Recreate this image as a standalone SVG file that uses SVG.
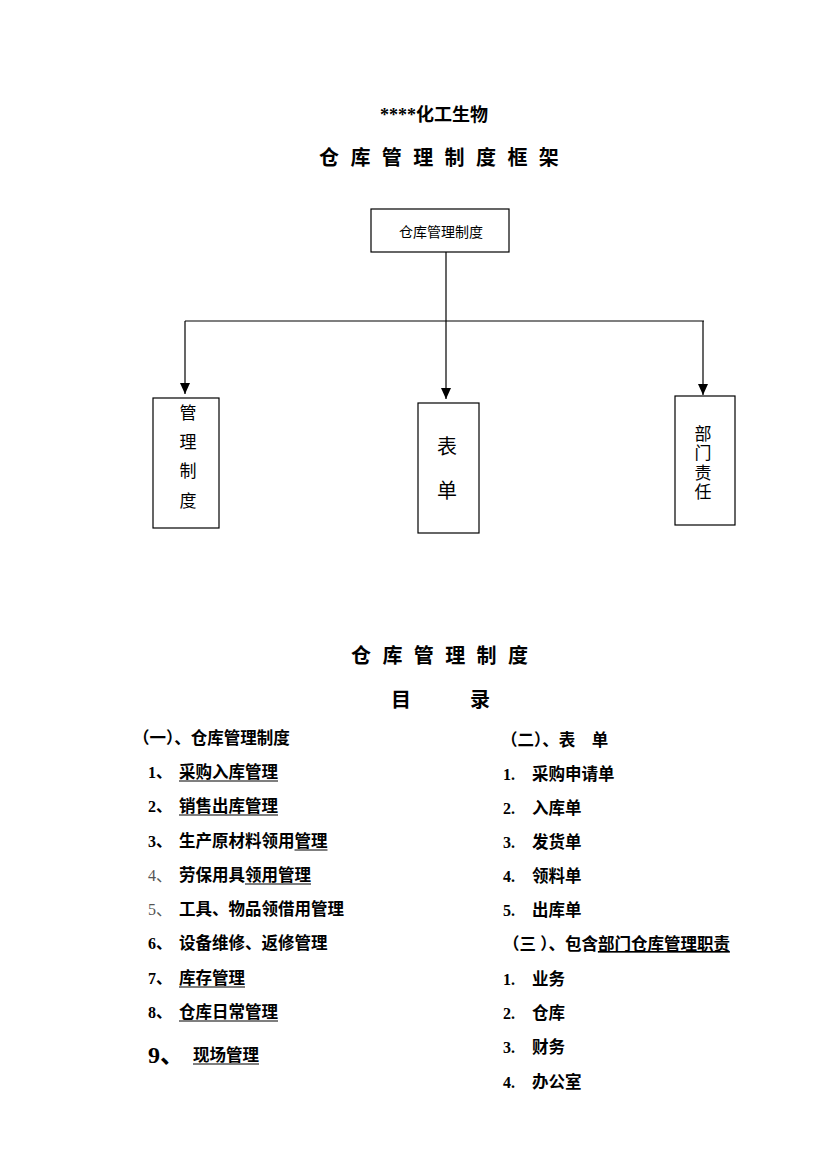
<svg xmlns="http://www.w3.org/2000/svg" width="826" height="1169" viewBox="0 0 826 1169">
<style>
.t{font-family:"Liberation Serif","Noto Sans CJK SC",serif;fill:#000}
.b{font-weight:bold}
.n{font-family:"Noto Sans CJK SC",sans-serif;fill:#000}
.box{fill:#fff;stroke:#000;stroke-width:1.2}
.ln{stroke:#000;stroke-width:1.2;fill:none}
.u{stroke:#000;stroke-width:1.2}
.g{fill:#555;font-weight:normal}
</style>
<defs>
<marker id="ah" markerWidth="12" markerHeight="10" refX="11" refY="5" orient="auto" markerUnits="userSpaceOnUse" viewBox="0 0 12 10">
<path d="M0,0 L11,5 L0,10 Z" fill="#000"/>
</marker>
</defs>
<rect width="826" height="1169" fill="#fff"/>

<g id="title">
<text class="t b" x="434" y="121" font-size="18" text-anchor="middle">****化工生物</text>
<text class="t b" font-size="20" y="165" text-anchor="middle" x="329 360.4 391.8 423.2 454.6 486 517.4 548.8">仓库管理制度框架</text>
</g>

<g id="connectors">
<line class="ln" x1="446" y1="252" x2="446" y2="321"/>
<line class="ln" x1="185" y1="321" x2="704" y2="321"/>
<line class="ln" x1="185" y1="321" x2="185" y2="394" marker-end="url(#ah)"/>
<line class="ln" x1="446" y1="321" x2="446" y2="399" marker-end="url(#ah)"/>
<line class="ln" x1="703" y1="321" x2="703" y2="395" marker-end="url(#ah)"/>
</g>

<g id="root">
<rect class="box" x="371" y="209" width="138" height="43"/>
<text class="n" x="441" y="237" font-size="14" text-anchor="middle">仓库管理制度</text>
</g>

<g id="node-guanli">
<rect class="box" x="153" y="398" width="66" height="130"/>
<text class="n" font-size="17" text-anchor="middle"><tspan x="188" y="419">管</tspan><tspan x="188" y="448">理</tspan><tspan x="188" y="477">制</tspan><tspan x="188" y="507">度</tspan></text>
</g>

<g id="node-biaodan">
<rect class="box" x="418" y="403" width="61" height="130"/>
<text class="n" font-size="20" text-anchor="middle"><tspan x="447" y="454">表</tspan><tspan x="447" y="498">单</tspan></text>
</g>

<g id="node-bumen">
<rect class="box" x="675" y="396" width="60" height="129"/>
<text class="n" font-size="17" x="703" y="425" writing-mode="vertical-rl" letter-spacing="2.5">部门责任</text>
</g>

<g id="toc-heading">
<text class="t b" font-size="20" y="663" text-anchor="middle" x="361 392.4 423.8 455.2 486.6 518">仓库管理制度</text>
<text class="t b" font-size="20" y="707" text-anchor="middle" x="401 480">目录</text>
</g>

<g id="toc-left">
<text class="t b" x="133" y="744" font-size="16.5">（一）、仓库管理制度</text>
<text class="t b" x="148" y="778" font-size="16">1、</text>
<text class="t b" x="179" y="778" font-size="16.5">采购入库管理</text>
<line class="u" x1="179" y1="781" x2="278" y2="781"/>
<text class="t b" x="148" y="812" font-size="16">2、</text>
<text class="t b" x="179" y="812" font-size="16.5">销售出库管理</text>
<line class="u" x1="179" y1="815" x2="278" y2="815"/>
<text class="t b" x="148" y="847" font-size="16">3、</text>
<text class="t b" x="179" y="847" font-size="16.5">生产原材料领用管理</text>
<line class="u" x1="294.5" y1="850" x2="327.5" y2="850"/>
<text class="t g" x="148" y="881" font-size="16">4、</text>
<text class="t b" x="179" y="881" font-size="16.5">劳保用具领用管理</text>
<line class="u" x1="245" y1="884" x2="311" y2="884"/>
<text class="t g" x="148" y="915" font-size="16">5、</text>
<text class="t b" x="179" y="915" font-size="16.5">工具、物品领借用管理</text>
<text class="t b" x="148" y="949" font-size="16">6、</text>
<text class="t b" x="179" y="949" font-size="16.5">设备维修、返修管理</text>
<text class="t b" x="148" y="984" font-size="16">7、</text>
<text class="t b" x="179" y="984" font-size="16.5">库存管理</text>
<line class="u" x1="179" y1="987" x2="245" y2="987"/>
<text class="t b" x="148" y="1018" font-size="16">8、</text>
<text class="t b" x="179" y="1018" font-size="16.5">仓库日常管理</text>
<line class="u" x1="179" y1="1021" x2="278" y2="1021"/>
<text class="t b" x="148" y="1063" font-size="24">9、</text>
<text class="t b" x="193" y="1061" font-size="16.5">现场管理</text>
<line class="u" x1="193" y1="1064" x2="259" y2="1064"/>
</g>

<g id="toc-right">
<text class="t b" x="501" y="746" font-size="16.5">（二）、表　单</text>
<text class="t b" x="503" y="780" font-size="16">1.</text>
<text class="t b" x="532" y="780" font-size="16.5">采购申请单</text>
<text class="t b" x="503" y="814" font-size="16">2.</text>
<text class="t b" x="532" y="814" font-size="16.5">入库单</text>
<text class="t b" x="503" y="848" font-size="16">3.</text>
<text class="t b" x="532" y="848" font-size="16.5">发货单</text>
<text class="t b" x="503" y="882" font-size="16">4.</text>
<text class="t b" x="532" y="882" font-size="16.5">领料单</text>
<text class="t b" x="503" y="916" font-size="16">5.</text>
<text class="t b" x="532" y="916" font-size="16.5">出库单</text>
<text class="t b" x="503" y="950" font-size="16.5">（三 ）、包含<tspan text-decoration="underline">部门仓库管理职责</tspan></text>
<text class="t b" x="503" y="985" font-size="16">1.</text>
<text class="t b" x="532" y="985" font-size="16.5">业务</text>
<text class="t b" x="503" y="1019" font-size="16">2.</text>
<text class="t b" x="532" y="1019" font-size="16.5">仓库</text>
<text class="t b" x="503" y="1053" font-size="16">3.</text>
<text class="t b" x="532" y="1053" font-size="16.5">财务</text>
<text class="t b" x="503" y="1088" font-size="16">4.</text>
<text class="t b" x="532" y="1088" font-size="16.5">办公室</text>
</g>
</svg>
